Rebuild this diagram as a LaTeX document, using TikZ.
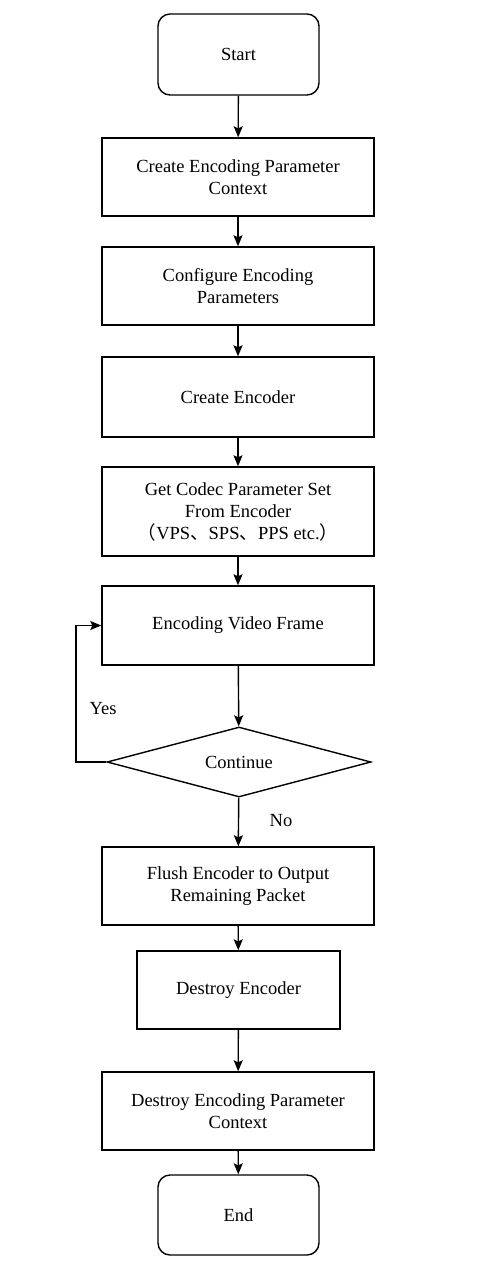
\documentclass[tikz,border=0pt]{standalone}
\usepackage{fontspec}
\setmainfont{Liberation Serif}
\newfontfamily\cjk{Noto Sans CJK SC}
\usetikzlibrary{shapes.geometric,arrows.meta}
\begin{document}
\begin{tikzpicture}[x=1pt,y=-1pt,
  every node/.style={font=\fontsize{18.5}{22}\selectfont, align=center, inner sep=0pt},
  box/.style={draw, line width=1.4pt, minimum width=272pt, minimum height=78pt},
  term/.style={draw, line width=1.4pt, rounded corners=12pt, minimum width=161pt, minimum height=81pt},
  dec/.style={draw, line width=1.4pt, diamond, aspect=3.77, minimum width=264pt, minimum height=70pt},
  arr/.style={draw, line width=1.4pt, -{Stealth[length=11pt,width=9pt,inset=2pt]}},
  lbl/.style={font=\fontsize{18.5}{22}\selectfont}
]
\useasboundingbox (0,0) rectangle (498,1270);
\node[term] (start) at (238.5,54.5) {Start};
\node[box] (b1) at (238,177) {Create Encoding Parameter\\Context};
\node[box] (b2) at (238,286) {Configure Encoding\\Parameters};
\node[box, minimum height=80pt] (b3) at (238,397) {Create Encoder};
\node[box, minimum height=89pt] (b4) at (238,511.5) {Get Codec Parameter Set\\From Encoder\\{\cjk （}VPS{\cjk 、}SPS{\cjk 、}PPS etc.{\cjk ）}};
\node[box, minimum height=79pt] (b5) at (238,625.5) {Encoding Video Frame};
\node[dec] (d) at (239,762) {Continue};
\node[box] (b6) at (238,886) {Flush Encoder to Output\\Remaining Packet};
\node[box, minimum width=203pt] (b7) at (238.5,990) {Destroy Encoder};
\node[box] (b8) at (238,1111) {Destroy Encoding Parameter\\Context};
\node[term, minimum height=80pt] (end) at (238.5,1215) {End};
\draw[arr] (start) -- (b1);
\draw[arr] (b1) -- (b2);
\draw[arr] (b2) -- (b3);
\draw[arr] (b3) -- (b4);
\draw[arr] (b4) -- (b5);
\draw[arr] (b5) -- (d);
\draw[arr] (d) -- (b6);
\draw[arr] (b6) -- (b7);
\draw[arr] (b7) -- (b8);
\draw[arr] (b8) -- (end);
\coordinate (lp) at (76,762);
\draw[arr] (d.west) -- (lp) |- (b5.west);
\node[lbl] (yes) at (103,709) {Yes};
\node[lbl] (no) at (281,821) {No};
\end{tikzpicture}
\end{document}
